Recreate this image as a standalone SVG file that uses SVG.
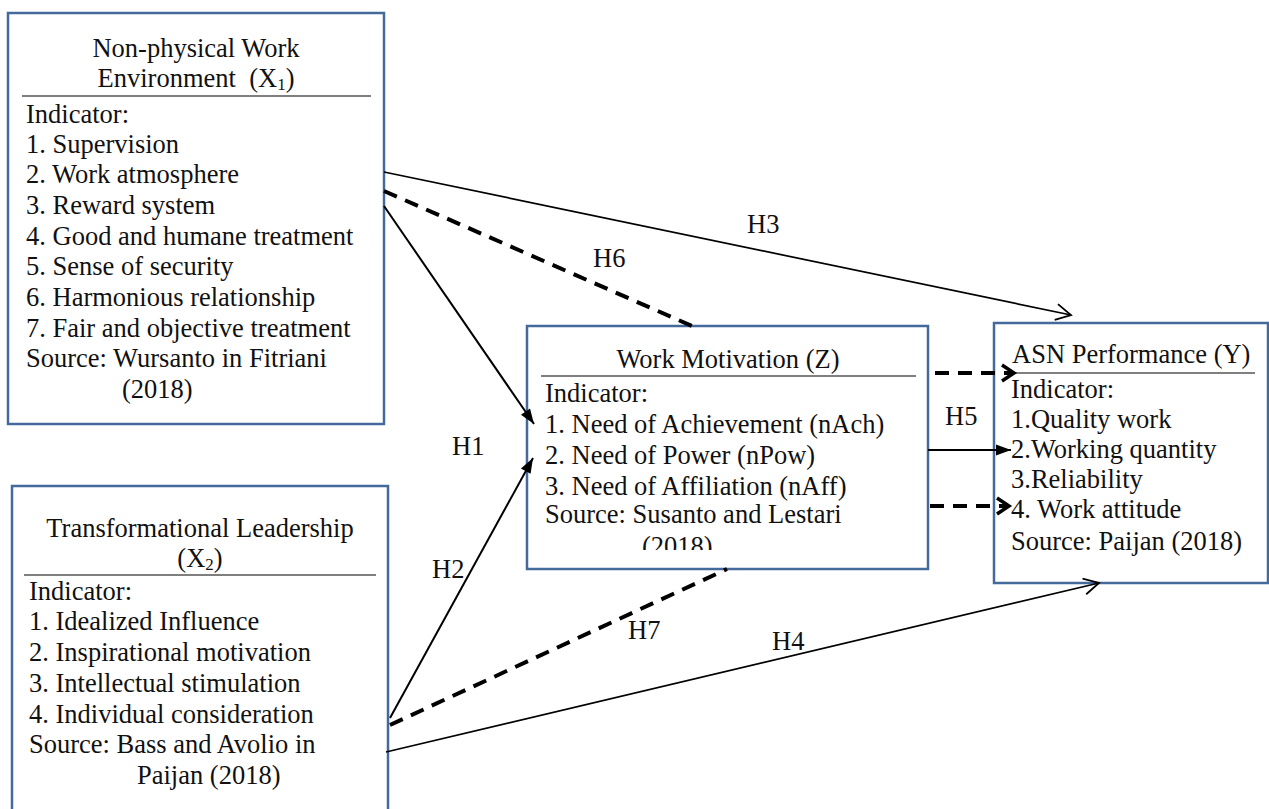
<svg xmlns="http://www.w3.org/2000/svg" width="1269" height="809" viewBox="0 0 1269 809">
<style>
text{font-family:'Liberation Serif','Times New Roman',serif;font-size:26.5px;fill:#111;}
.box{fill:#fff;stroke:#44699b;stroke-width:2.5;}
.sep{stroke:#555;stroke-width:1.6;}
.mid{text-anchor:middle;}
.pre{white-space:pre;}
.solid{fill:none;stroke:#000;stroke-width:2;}
.thin{fill:none;stroke:#000;stroke-width:1.7;}
.dash{fill:none;stroke:#000;stroke-width:4;stroke-dasharray:14 9;}
.sub{font-size:17px;}
</style>
<defs>
<marker id="openThin" markerUnits="userSpaceOnUse" viewBox="-20 -12 24 24" markerWidth="24" markerHeight="24" refX="0" refY="0" orient="auto">
<path d="M-15,-8 L0,0 L-15,8" fill="none" stroke="#000" stroke-width="1.8"/>
</marker>
<marker id="openThick" markerUnits="userSpaceOnUse" viewBox="-20 -12 24 24" markerWidth="24" markerHeight="24" refX="0" refY="0" orient="auto">
<path d="M-12,-8 L0,0 L-12,8" fill="none" stroke="#000" stroke-width="3.5"/>
</marker>
<marker id="filled" markerUnits="userSpaceOnUse" viewBox="-20 -12 24 24" markerWidth="24" markerHeight="24" refX="0" refY="0" orient="auto">
<path d="M-15,-5.5 L0,0 L-15,5.5 Z" fill="#000" stroke="none"/>
</marker>
<clipPath id="zclip"><rect x="527" y="326" width="401" height="224"/></clipPath>
</defs>

<g id="node-x1">
<rect class="box" x="8" y="13" width="376" height="411"/>
<text class="mid" x="196" y="57">Non-physical Work</text>
<text class="mid pre" x="196" y="87">Environment  (X<tspan class="sub" dy="3">1</tspan><tspan dy="-3">)</tspan></text>
<line class="sep" x1="22" y1="96" x2="371" y2="96"/>
<text x="26" y="123">Indicator:</text>
<text x="26" y="153">1. Supervision</text>
<text x="26" y="183">2. Work atmosphere</text>
<text x="26" y="214">3. Reward system</text>
<text x="26" y="245">4. Good and humane treatment</text>
<text x="26" y="275">5. Sense of security</text>
<text x="26" y="306">6. Harmonious relationship</text>
<text x="26" y="337">7. Fair and objective treatment</text>
<text x="26" y="367">Source: Wursanto in Fitriani</text>
<text x="122" y="398">(2018)</text>
</g>

<g id="node-x2">
<rect class="box" x="12" y="486" width="376" height="340"/>
<text class="mid" x="200" y="537">Transformational Leadership</text>
<text class="mid" x="200" y="567">(X<tspan class="sub" dy="3">2</tspan><tspan dy="-3">)</tspan></text>
<line class="sep" x1="24" y1="575" x2="376" y2="575"/>
<text x="29" y="600">Indicator:</text>
<text x="29" y="630">1. Idealized Influence</text>
<text x="29" y="661">2. Inspirational motivation</text>
<text x="29" y="692">3. Intellectual stimulation</text>
<text x="29" y="723">4. Individual consideration</text>
<text x="29" y="753">Source: Bass and Avolio in</text>
<text x="137" y="784">Paijan (2018)</text>
</g>

<g id="node-z">
<rect class="box" x="527" y="326" width="401" height="243"/>
<text class="mid" x="728" y="368">Work Motivation (Z)</text>
<line class="sep" x1="541" y1="376" x2="916" y2="376"/>
<g clip-path="url(#zclip)">
<text x="545" y="402">Indicator:</text>
<text x="545" y="433">1. Need of Achievement (nAch)</text>
<text x="545" y="464">2. Need of Power (nPow)</text>
<text x="545" y="495">3. Need of Affiliation (nAff)</text>
<text x="545" y="523">Source: Susanto and Lestari</text>
<text x="642" y="555">(2018)</text>
</g>
</g>

<g id="node-y">
<rect class="box" x="994" y="323" width="274" height="260"/>
<text x="1012" y="363">ASN Performance (Y)</text>
<line class="sep" x1="1010" y1="373" x2="1255" y2="373"/>
<text x="1011" y="398">Indicator:</text>
<text x="1011" y="428">1.Quality work</text>
<text x="1011" y="458">2.Working quantity</text>
<text x="1011" y="488">3.Reliability</text>
<text x="1011" y="518">4. Work attitude</text>
<text x="1011" y="550">Source: Paijan (2018)</text>
</g>

<g id="connectors">
<line class="thin" x1="384" y1="172" x2="1071" y2="315" marker-end="url(#openThin)"/>
<line class="dash" x1="384" y1="191" x2="692" y2="326"/>
<line class="solid" x1="384" y1="206" x2="534" y2="424" marker-end="url(#filled)"/>
<line class="solid" x1="390" y1="718" x2="533" y2="458" marker-end="url(#filled)"/>
<line class="dash" x1="390" y1="725" x2="727" y2="569"/>
<line class="thin" x1="386" y1="752" x2="1099" y2="583" marker-end="url(#openThin)"/>
<line class="dash" x1="935" y1="373" x2="1014" y2="373" marker-end="url(#openThick)"/>
<line class="solid" x1="928" y1="450" x2="1011" y2="450" marker-end="url(#filled)"/>
<line class="dash" x1="930" y1="506" x2="1009" y2="506" marker-end="url(#openThick)"/>
<text x="747" y="233">H3</text>
<text x="593" y="267">H6</text>
<text x="452" y="455">H1</text>
<text x="945" y="425">H5</text>
<text x="432" y="578">H2</text>
<text x="628" y="639">H7</text>
<text x="772" y="650">H4</text>
</g>
</svg>
